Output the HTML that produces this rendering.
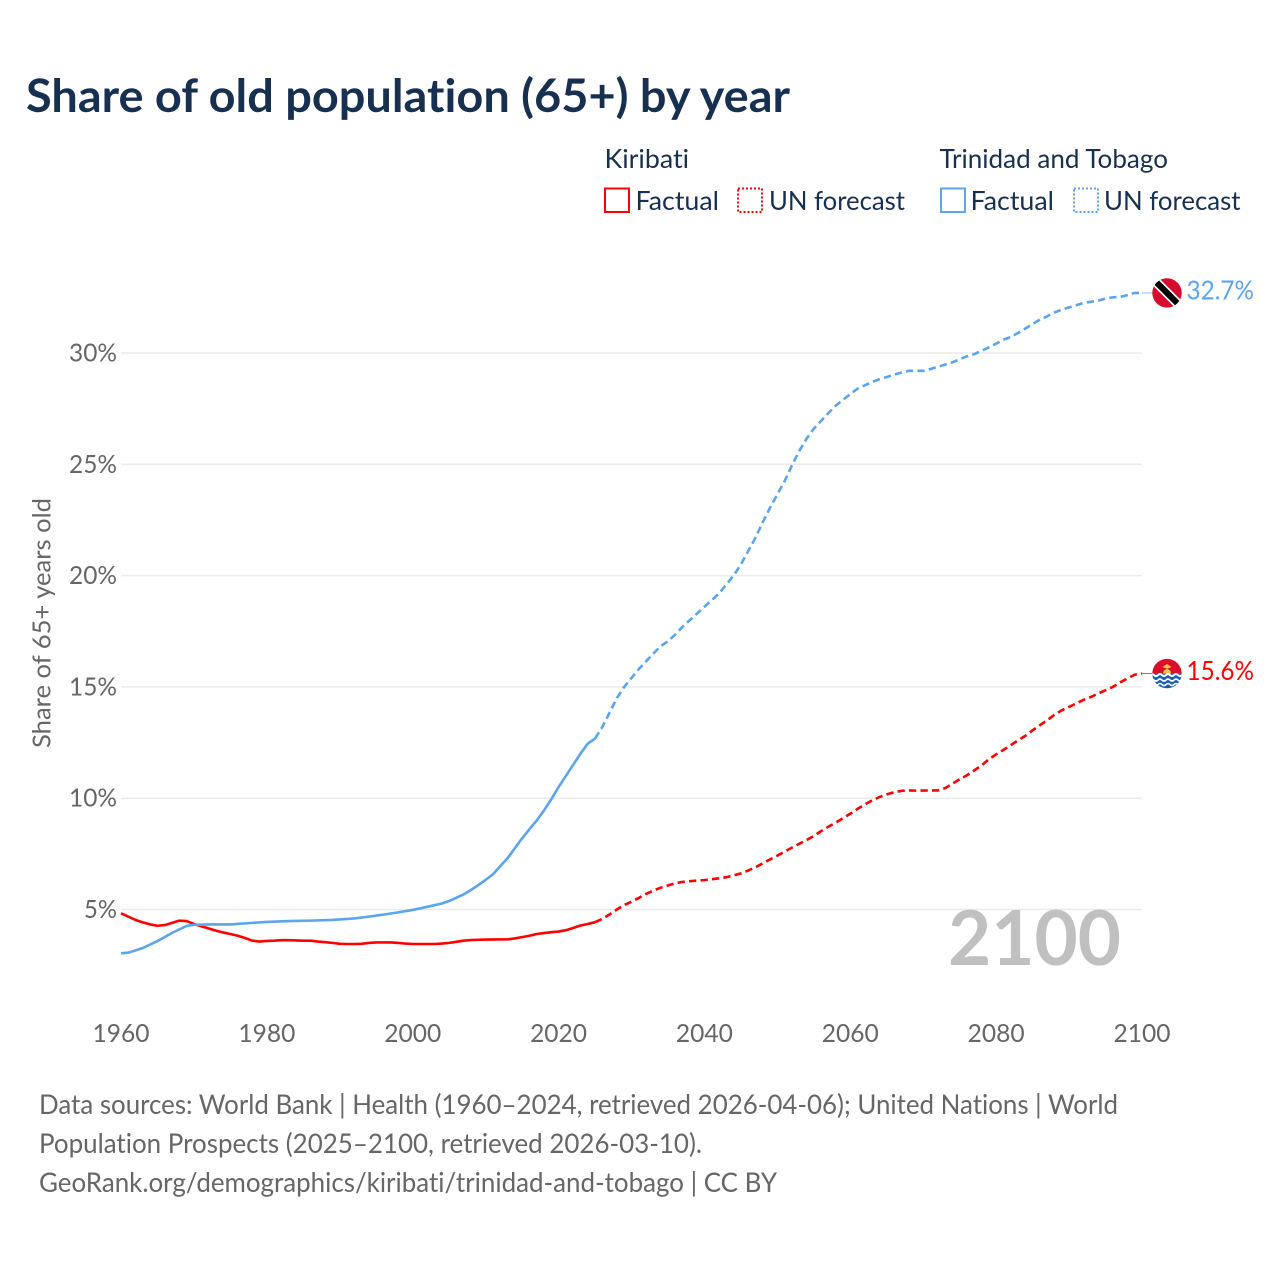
<!DOCTYPE html>
<html lang="en">
<head>
<meta charset="utf-8">
<title>Share of old population (65+) by year</title>
<style>
html,body{margin:0;padding:0;background:#fff;}
svg{display:block;}
text{font-family:"Lato","Liberation Sans",sans-serif;font-variant-ligatures:none;}
</style>
</head>
<body>
<svg id="chart" xmlns="http://www.w3.org/2000/svg" width="1280" height="1280" viewBox="0 0 1280 1280">
  <rect width="1280" height="1280" fill="#ffffff"/>
  <text x="26" y="112" font-size="46" font-weight="700" fill="#18304f" textLength="764" lengthAdjust="spacingAndGlyphs">Share of old population (65+) by year</text>

  <g font-size="26" fill="#18304f">
    <text x="604.500" y="168" textLength="84.500" lengthAdjust="spacingAndGlyphs">Kiribati</text>
    <text x="939.500" y="168" textLength="228.500" lengthAdjust="spacingAndGlyphs">Trinidad and Tobago</text>
    <rect x="605" y="188.500" width="24" height="23.500" fill="none" stroke="#ff0000" stroke-width="2"/>
    <text x="635.500" y="210" textLength="83.500" lengthAdjust="spacingAndGlyphs">Factual</text>
    <rect x="738" y="188.500" width="24" height="23.500" fill="none" stroke="#ff0000" stroke-width="2" stroke-dasharray="2 2"/>
    <text x="769" y="210" textLength="136" lengthAdjust="spacingAndGlyphs">UN forecast</text>
    <rect x="941" y="188.500" width="24" height="23.500" fill="none" stroke="#5ba4ee" stroke-width="2"/>
    <text x="970.500" y="210" textLength="83.500" lengthAdjust="spacingAndGlyphs">Factual</text>
    <rect x="1074" y="188.500" width="24" height="23.500" fill="none" stroke="#5ba4ee" stroke-width="2" stroke-dasharray="2 2"/>
    <text x="1104" y="210" textLength="136.500" lengthAdjust="spacingAndGlyphs">UN forecast</text>
  </g>

  <g id="grid"></g>
  <g id="yticks" font-size="25" fill="#666666" text-anchor="end"></g>
  <g id="xticks" font-size="25" fill="#666666" text-anchor="middle"></g>
  <text transform="translate(50.500 623) rotate(-90)" text-anchor="middle" font-size="25" fill="#666666" textLength="250" lengthAdjust="spacingAndGlyphs">Share of 65+ years old</text>

  <text x="948" y="965" font-size="76" font-weight="700" fill="#c0c0c0" textLength="173" lengthAdjust="spacingAndGlyphs">2100</text>

  <g id="series"></g>

  <defs>
    <clipPath id="clip-tt"><circle cx="1167" cy="0" r="14.700"/></clipPath>
    <clipPath id="clip-ki"><circle cx="1167" cy="0" r="14.700"/></clipPath>
  </defs>

  <g id="flag-trinidad">
    <g clip-path="url(#clip-tt)">
      <rect x="1150" y="-16" width="34" height="32" fill="#da0a2f"/>
      <rect x="1147" y="-4.800" width="40" height="9.600" fill="#ffffff" transform="rotate(45 1167 0)"/>
      <rect x="1147" y="-3.100" width="40" height="6.200" fill="#000000" transform="rotate(45 1167 0)"/>
    </g>
  </g>

  <g id="flag-kiribati">
    <g clip-path="url(#clip-ki)">
      <rect x="1150" y="-16" width="34" height="16" fill="#d9102c"/>
      <path d="M1163 0 A4 4.500 0 0 1 1171 0 Z" fill="#fcc93a"/>
      <path d="M1162.500 -6.500 L1167 -9.500 L1171.500 -6.500 L1167 -4.800 Z" fill="#fcc93a"/>
      <rect x="1150" y="0" width="34" height="16" fill="#1b5eb0"/>
      <path d="M1150 1.500 q2 -2 4 0 t4 0 t4 0 t4 0 t4 0 t4 0 t4 0 t4 0 t4 0" fill="none" stroke="#ffffff" stroke-width="2"/>
      <path d="M1150 6.500 q2 -2 4 0 t4 0 t4 0 t4 0 t4 0 t4 0 t4 0 t4 0 t4 0" fill="none" stroke="#ffffff" stroke-width="1.700"/>
      <path d="M1150 11 q2 -2 4 0 t4 0 t4 0 t4 0 t4 0 t4 0 t4 0 t4 0 t4 0" fill="none" stroke="#ffffff" stroke-width="1.500"/>
    </g>
  </g>

  <g font-size="27" fill="#666666">
    <text x="39" y="1114" textLength="1079" lengthAdjust="spacingAndGlyphs">Data sources: World Bank | Health (1960–2024, retrieved 2026-04-06); United Nations | World</text>
    <text x="39" y="1153" textLength="663" lengthAdjust="spacingAndGlyphs">Population Prospects (2025–2100, retrieved 2026-03-10).</text>
    <text x="39" y="1192" textLength="738" lengthAdjust="spacingAndGlyphs">GeoRank.org/demographics/kiribati/trinidad-and-tobago | CC BY</text>
  </g>
</svg>

<script>
const yTickValues = [5, 10, 15, 20, 25, 30];
const xTickValues = [1960, 1980, 2000, 2020, 2040, 2060, 2080, 2100];

const kiribatiFactualYears = [1960,1961,1962,1963,1964,1965,1966,1967,1968,1969,1970,1971,1972,1973,1974,1975,1976,1977,1978,1979,1980,1981,1982,1983,1984,1985,1986,1987,1988,1989,1990,1991,1992,1993,1994,1995,1996,1997,1998,1999,2000,2002,2003,2004,2005,2006,2007,2008,2010,2013,2014,2015,2016,2017,2018,2019,2020,2021,2022,2023,2024,2025];
const kiribatiFactualValues = [4.83,4.68,4.53,4.42,4.33,4.27,4.3,4.4,4.5,4.48,4.35,4.25,4.15,4.05,3.97,3.9,3.82,3.72,3.6,3.56,3.59,3.6,3.62,3.62,3.61,3.6,3.6,3.56,3.53,3.5,3.46,3.45,3.45,3.46,3.5,3.52,3.52,3.52,3.5,3.47,3.45,3.45,3.45,3.47,3.5,3.55,3.6,3.63,3.65,3.66,3.7,3.76,3.82,3.9,3.94,3.98,4.01,4.07,4.17,4.28,4.35,4.43];

const kiribatiForecastYears = [2025,2026,2027,2028,2029,2030,2031,2032,2033,2034,2035,2036,2037,2038,2039,2040,2041,2042,2043,2044,2045,2046,2047,2048,2049,2050,2051,2052,2053,2054,2055,2056,2057,2058,2059,2060,2061,2062,2063,2064,2065,2066,2067,2068,2069,2072,2073,2074,2075,2076,2077,2078,2079,2080,2081,2082,2083,2084,2085,2086,2087,2088,2089,2090,2091,2092,2093,2094,2095,2096,2097,2098,2099,2100];
const kiribatiForecastValues = [4.43,4.58,4.78,5.0,5.2,5.35,5.52,5.7,5.85,5.98,6.08,6.18,6.24,6.27,6.3,6.32,6.36,6.4,6.45,6.53,6.62,6.75,6.9,7.07,7.25,7.42,7.6,7.78,7.95,8.12,8.3,8.52,8.72,8.9,9.1,9.3,9.52,9.72,9.9,10.05,10.17,10.27,10.33,10.35,10.34,10.35,10.45,10.65,10.85,11.03,11.25,11.47,11.75,11.97,12.17,12.38,12.6,12.8,13.05,13.28,13.5,13.75,13.95,14.1,14.26,14.42,14.55,14.7,14.85,15,15.2,15.38,15.55,15.6];

const trinidadFactualYears = [1960,1961,1963,1965,1967,1969,1970,1972,1975,1978,1980,1983,1986,1989,1992,1994,1996,1998,2000,2002,2004,2005,2007,2008,2009,2010,2011,2012,2013,2014,2015,2016,2017,2018,2019,2020,2021,2022,2023,2024,2025];
const trinidadFactualValues = [3.03,3.06,3.27,3.58,3.95,4.26,4.31,4.33,4.33,4.4,4.44,4.48,4.5,4.53,4.6,4.68,4.77,4.87,4.98,5.12,5.27,5.38,5.68,5.88,6.1,6.33,6.58,6.95,7.3,7.75,8.2,8.6,9.0,9.45,9.95,10.5,11,11.5,12.0,12.45,12.68];

const trinidadForecastYears = [2025,2026,2027,2028,2029,2030,2031,2032,2033,2034,2035,2036,2037,2038,2039,2040,2041,2042,2043,2044,2045,2046,2047,2048,2049,2050,2051,2052,2053,2054,2055,2056,2057,2058,2059,2060,2061,2062,2063,2064,2065,2066,2067,2068,2069,2070,2071,2072,2073,2074,2075,2076,2077,2078,2079,2080,2081,2082,2083,2084,2085,2086,2087,2088,2089,2090,2091,2092,2093,2094,2095,2096,2097,2098,2099,2100];
const trinidadForecastValues = [12.68,13.2,13.85,14.5,15.0,15.4,15.8,16.15,16.5,16.83,17.05,17.35,17.7,18.0,18.3,18.6,18.9,19.2,19.6,20.0,20.5,21.1,21.7,22.4,23.05,23.65,24.25,24.95,25.6,26.15,26.6,26.95,27.3,27.63,27.9,28.15,28.4,28.55,28.7,28.82,28.92,29.03,29.12,29.2,29.2,29.2,29.28,29.38,29.48,29.58,29.72,29.85,29.95,30.1,30.25,30.42,30.6,30.72,30.9,31.1,31.3,31.5,31.65,31.82,31.95,32.05,32.15,32.25,32.3,32.35,32.45,32.5,32.52,32.6,32.7,32.7];

const SVG_NS = 'http://www.w3.org/2000/svg';
const RED = '#ff0000';
const BLUE = '#5ba4ee';
const LINE_WIDTH = '2.6';
const DASHES = '7.3 4.2';

function xScale(year) { return 121 + (year - 1960) * (1021 / 140); }
function yScale(value) { return 909.5 - (value - 5) * (556.5 / 25); }

function linePath(years, values) {
  return years.map(function (yr, i) {
    return (i ? 'L' : 'M') + xScale(yr).toFixed(2) + ' ' + yScale(values[i]).toFixed(2);
  }).join(' ');
}

const gridGroup = document.getElementById('grid');
const yTickGroup = document.getElementById('yticks');
yTickValues.forEach(function (v) {
  const line = document.createElementNS(SVG_NS, 'line');
  
  
  line.setAttribute('x1', xScale(1960));
  line.setAttribute('x2', xScale(2100));
  line.setAttribute('y1', yScale(v));
  line.setAttribute('y2', yScale(v));
  line.setAttribute('stroke', '#ebebeb');
  line.setAttribute('stroke-width', '1.5');
  gridGroup.appendChild(line);

  const label = document.createElementNS(SVG_NS, 'text');
  
  
  label.setAttribute('x', 117);
  label.setAttribute('y', yScale(v) + 8.5);
  label.setAttribute('textLength', v < 10 ? 33 : 48);
  label.setAttribute('lengthAdjust', 'spacingAndGlyphs');
  label.textContent = v + '%';
  yTickGroup.appendChild(label);
});

const xTickGroup = document.getElementById('xticks');
xTickValues.forEach(function (yr) {
  const label = document.createElementNS(SVG_NS, 'text');
  
  
  label.setAttribute('x', xScale(yr));
  label.setAttribute('y', 1042);
  label.setAttribute('textLength', 57);
  label.setAttribute('lengthAdjust', 'spacingAndGlyphs');
  label.textContent = yr;
  xTickGroup.appendChild(label);
});

const seriesGroup = document.getElementById('series');

const kiribatiFactualLine = document.createElementNS(SVG_NS, 'path');


kiribatiFactualLine.setAttribute('d', linePath(kiribatiFactualYears, kiribatiFactualValues));
kiribatiFactualLine.setAttribute('fill', 'none');
kiribatiFactualLine.setAttribute('stroke', RED);
kiribatiFactualLine.setAttribute('stroke-width', LINE_WIDTH);
kiribatiFactualLine.setAttribute('stroke-linejoin', 'round');
seriesGroup.appendChild(kiribatiFactualLine);

const kiribatiForecastLine = document.createElementNS(SVG_NS, 'path');


kiribatiForecastLine.setAttribute('d', linePath(kiribatiForecastYears, kiribatiForecastValues));
kiribatiForecastLine.setAttribute('fill', 'none');
kiribatiForecastLine.setAttribute('stroke', RED);
kiribatiForecastLine.setAttribute('stroke-width', LINE_WIDTH);
kiribatiForecastLine.setAttribute('stroke-linejoin', 'round');
kiribatiForecastLine.setAttribute('stroke-dasharray', DASHES);
seriesGroup.appendChild(kiribatiForecastLine);

const trinidadFactualLine = document.createElementNS(SVG_NS, 'path');


trinidadFactualLine.setAttribute('d', linePath(trinidadFactualYears, trinidadFactualValues));
trinidadFactualLine.setAttribute('fill', 'none');
trinidadFactualLine.setAttribute('stroke', BLUE);
trinidadFactualLine.setAttribute('stroke-width', LINE_WIDTH);
trinidadFactualLine.setAttribute('stroke-linejoin', 'round');
seriesGroup.appendChild(trinidadFactualLine);

const trinidadForecastLine = document.createElementNS(SVG_NS, 'path');


trinidadForecastLine.setAttribute('d', linePath(trinidadForecastYears, trinidadForecastValues));
trinidadForecastLine.setAttribute('fill', 'none');
trinidadForecastLine.setAttribute('stroke', BLUE);
trinidadForecastLine.setAttribute('stroke-width', LINE_WIDTH);
trinidadForecastLine.setAttribute('stroke-linejoin', 'round');
trinidadForecastLine.setAttribute('stroke-dasharray', DASHES);
seriesGroup.appendChild(trinidadForecastLine);

const kiribatiEnd = kiribatiForecastValues[kiribatiForecastValues.length - 1];
const trinidadEnd = trinidadForecastValues[trinidadForecastValues.length - 1];

const kiribatiConnector = document.createElementNS(SVG_NS, 'line');


kiribatiConnector.setAttribute('x1', xScale(2100));
kiribatiConnector.setAttribute('x2', 1153);
kiribatiConnector.setAttribute('y1', yScale(kiribatiEnd));
kiribatiConnector.setAttribute('y2', yScale(kiribatiEnd));
kiribatiConnector.setAttribute('stroke', RED);
kiribatiConnector.setAttribute('stroke-opacity', '0.7');
kiribatiConnector.setAttribute('stroke-width', '1');
seriesGroup.appendChild(kiribatiConnector);

const trinidadConnector = document.createElementNS(SVG_NS, 'line');


trinidadConnector.setAttribute('x1', xScale(2100));
trinidadConnector.setAttribute('x2', 1153);
trinidadConnector.setAttribute('y1', yScale(trinidadEnd));
trinidadConnector.setAttribute('y2', yScale(trinidadEnd));
trinidadConnector.setAttribute('stroke', BLUE);
trinidadConnector.setAttribute('stroke-opacity', '0.7');
trinidadConnector.setAttribute('stroke-width', '1');
seriesGroup.appendChild(trinidadConnector);

document.getElementById('flag-kiribati').setAttribute('transform', 'translate(0 ' + yScale(kiribatiEnd) + ')');
document.getElementById('flag-trinidad').setAttribute('transform', 'translate(0 ' + yScale(trinidadEnd) + ')');

const kiribatiEndLabel = document.createElementNS(SVG_NS, 'text');


kiribatiEndLabel.setAttribute('x', 1186.5);
kiribatiEndLabel.setAttribute('y', yScale(kiribatiEnd) + 6.5);
kiribatiEndLabel.setAttribute('font-size', '26');
kiribatiEndLabel.setAttribute('fill', RED);
kiribatiEndLabel.setAttribute('textLength', '67.5');
kiribatiEndLabel.setAttribute('lengthAdjust', 'spacingAndGlyphs');
kiribatiEndLabel.textContent = kiribatiEnd.toFixed(1) + '%';
seriesGroup.appendChild(kiribatiEndLabel);

const trinidadEndLabel = document.createElementNS(SVG_NS, 'text');


trinidadEndLabel.setAttribute('x', 1186.5);
trinidadEndLabel.setAttribute('y', yScale(trinidadEnd) + 6.5);
trinidadEndLabel.setAttribute('font-size', '26');
trinidadEndLabel.setAttribute('fill', BLUE);
trinidadEndLabel.setAttribute('textLength', '67.5');
trinidadEndLabel.setAttribute('lengthAdjust', 'spacingAndGlyphs');
trinidadEndLabel.textContent = trinidadEnd.toFixed(1) + '%';
seriesGroup.appendChild(trinidadEndLabel);
</script>
</body>
</html>
